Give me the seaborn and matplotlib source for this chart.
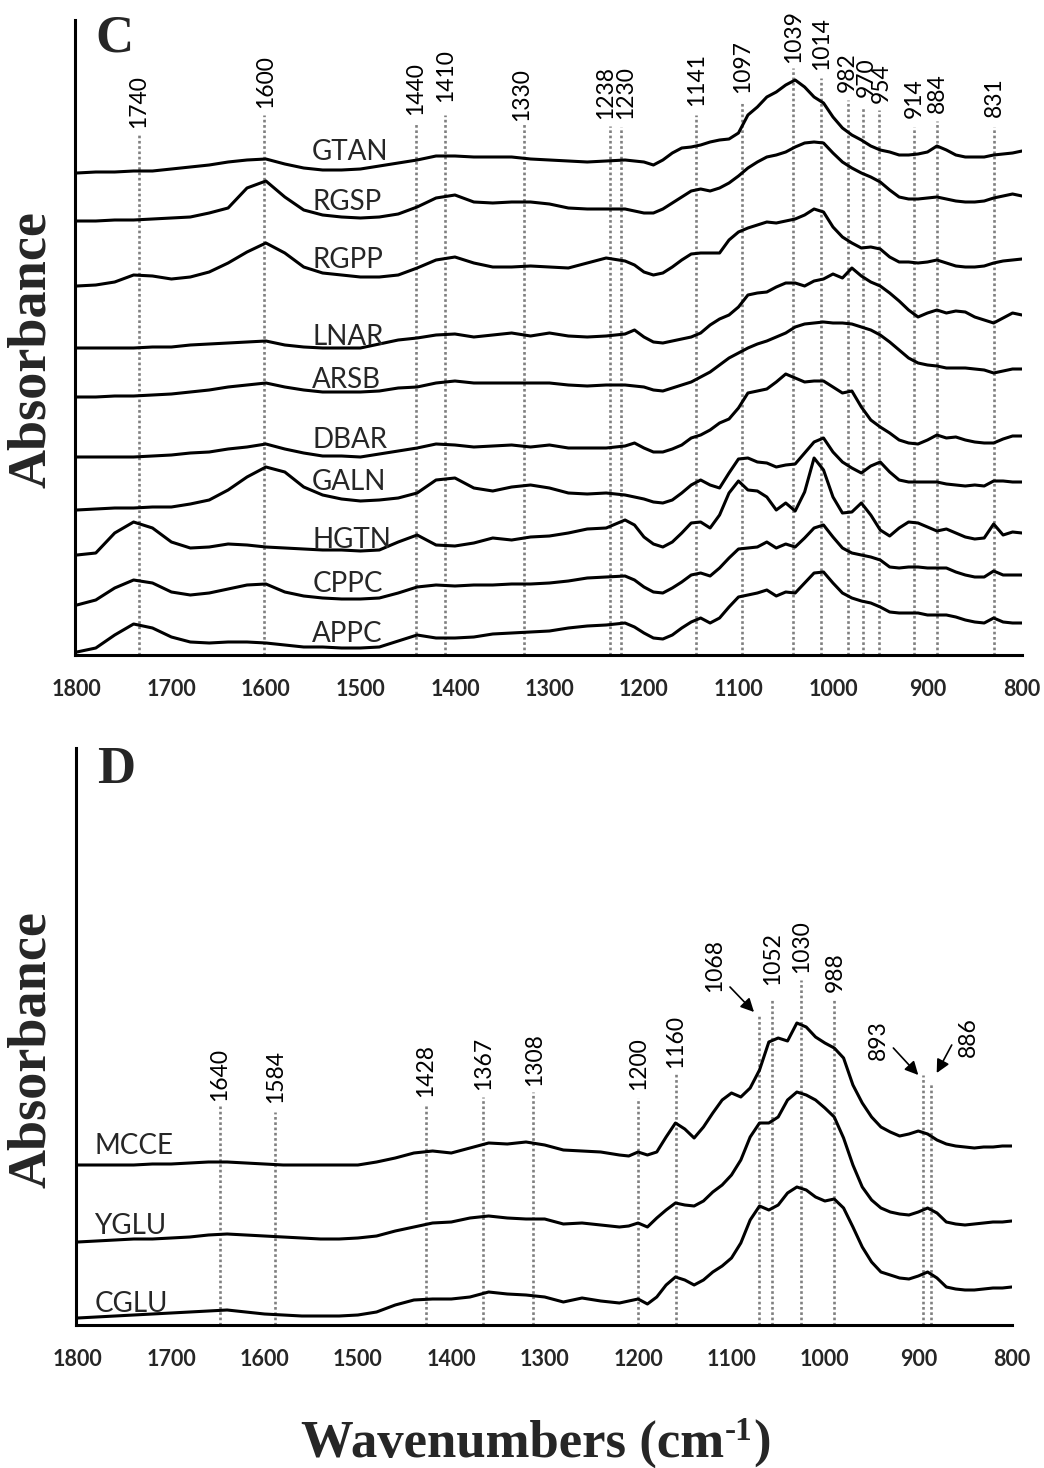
import matplotlib
matplotlib.use("Agg")
import matplotlib.pyplot as plt
import seaborn as sns
import pandas as pd

# ---------------- data ----------------
wavenumber = [1800, 1780, 1760, 1740, 1720, 1700, 1680, 1660, 1640, 1620,
              1600, 1580, 1560, 1540, 1520, 1500, 1480, 1460, 1440, 1420,
              1400, 1380, 1360, 1340, 1320, 1300, 1280, 1260, 1240, 1220,
              1210, 1200, 1190, 1180, 1170, 1160, 1150, 1140, 1130, 1120,
              1110, 1100, 1090, 1080, 1070, 1060, 1050, 1040, 1030, 1020,
              1010, 1000, 990, 980, 970, 960, 950, 940, 930, 920,
              910, 900, 890, 880, 870, 860, 850, 840, 830, 820,
              810, 800]

# panel C (offset-stacked absorbance, arbitrary units)
GTAN = [482, 483, 483, 484, 484, 486, 488, 490, 493, 495,
        496, 491, 487, 485, 485, 486, 489, 492, 495, 499,
        499, 498, 498, 498, 496, 495, 494, 493, 494, 495,
        494, 493, 490, 495, 502, 507, 508, 510, 513, 515,
        516, 522, 540, 548, 558, 563, 570, 575, 568, 558,
        552, 538, 527, 520, 515, 509, 505, 503, 500, 500,
        501, 503, 509, 505, 500, 498, 498, 498, 500, 501,
        502, 504]
RGSP = [434, 434, 435, 435, 436, 437, 438, 442, 447, 467,
        474, 458, 445, 440, 438, 437, 438, 441, 448, 457,
        460, 453, 452, 453, 453, 451, 447, 446, 446, 446,
        444, 442, 442, 446, 452, 458, 464, 466, 464, 467,
        472, 479, 487, 493, 498, 500, 503, 508, 512, 513,
        512, 502, 493, 487, 482, 478, 473, 465, 458, 456,
        456, 457, 458, 456, 454, 453, 453, 454, 457, 459,
        461, 459]
RGPP = [369, 370, 373, 380, 379, 376, 378, 383, 392, 403,
        412, 402, 388, 382, 380, 378, 378, 380, 387, 395,
        398, 392, 388, 388, 389, 388, 387, 392, 397, 394,
        390, 383, 380, 382, 388, 395, 401, 402, 402, 402,
        415, 423, 427, 430, 433, 432, 434, 436, 440, 446,
        443, 428, 418, 412, 407, 408, 406, 398, 393, 393,
        392, 393, 395, 392, 389, 388, 388, 389, 392, 394,
        395, 396]
LNAR = [307, 307, 307, 307, 308, 308, 310, 311, 312, 313,
        314, 310, 308, 307, 307, 307, 311, 315, 317, 320,
        321, 318, 320, 322, 319, 322, 319, 318, 319, 321,
        325, 318, 313, 312, 314, 316, 318, 322, 330, 336,
        340, 348, 360, 362, 363, 368, 372, 372, 369, 374,
        376, 381, 377, 387, 379, 373, 369, 362, 354, 345,
        338, 342, 345, 342, 344, 343, 338, 335, 332, 337,
        342, 340]
ARSB = [258, 258, 259, 259, 260, 261, 263, 265, 268, 270,
        272, 268, 265, 263, 263, 263, 264, 267, 268, 272,
        274, 272, 272, 272, 272, 272, 270, 269, 270, 270,
        269, 268, 265, 264, 267, 270, 273, 278, 283, 290,
        297, 302, 307, 311, 314, 318, 322, 328, 331, 332,
        333, 332, 332, 331, 328, 325, 320, 313, 305, 297,
        292, 290, 289, 287, 287, 287, 286, 285, 282, 284,
        286, 286]
DBAR = [198, 198, 198, 198, 199, 200, 202, 203, 206, 208,
        211, 206, 202, 199, 199, 198, 201, 204, 207, 211,
        210, 208, 209, 210, 208, 210, 207, 207, 207, 209,
        212, 207, 203, 203, 206, 210, 217, 220, 225, 232,
        236, 247, 262, 264, 266, 273, 281, 277, 273, 274,
        274, 268, 262, 264, 248, 235, 228, 222, 215, 212,
        211, 215, 220, 217, 218, 215, 213, 212, 212, 216,
        219, 219]
GALN = [145, 146, 147, 147, 148, 148, 151, 155, 165, 178,
        188, 183, 168, 160, 156, 154, 155, 157, 162, 175,
        177, 167, 164, 168, 170, 167, 162, 161, 162, 160,
        158, 156, 153, 152, 155, 162, 170, 175, 170, 167,
        182, 196, 197, 193, 192, 188, 190, 191, 202, 213,
        217, 203, 193, 187, 182, 189, 193, 183, 175, 173,
        173, 173, 173, 171, 170, 169, 170, 169, 174, 174,
        173, 173]
HGTN = [100, 102, 122, 133, 127, 113, 107, 108, 111, 110,
        108, 107, 106, 105, 105, 104, 105, 113, 120, 110,
        109, 112, 117, 115, 118, 119, 122, 126, 127, 135,
        130, 118, 111, 108, 113, 122, 132, 133, 127, 140,
        162, 174, 165, 164, 158, 145, 152, 144, 163, 197,
        185, 158, 142, 143, 152, 140, 125, 119, 127, 133,
        132, 128, 124, 126, 122, 118, 116, 117, 131, 120,
        123, 122]
CPPC = [50, 55, 67, 75, 72, 63, 60, 62, 66, 70,
        71, 63, 59, 57, 56, 56, 57, 62, 68, 70,
        69, 70, 70, 71, 71, 72, 74, 77, 78, 79,
        75, 68, 63, 62, 67, 73, 80, 82, 79, 87,
        97, 106, 107, 108, 113, 107, 111, 108, 117, 127,
        130, 118, 107, 102, 100, 98, 95, 88, 87, 88,
        88, 87, 87, 87, 83, 80, 78, 78, 84, 80,
        80, 80]
APPC = [3, 7, 20, 31, 27, 18, 13, 12, 13, 13,
        12, 10, 8, 8, 7, 7, 8, 14, 20, 17,
        17, 18, 21, 22, 23, 24, 27, 29, 30, 32,
        28, 22, 17, 16, 20, 27, 33, 37, 32, 37,
        48, 58, 60, 62, 65, 59, 63, 62, 72, 82,
        83, 72, 62, 57, 54, 52, 48, 43, 42, 42,
        42, 40, 40, 40, 38, 35, 33, 32, 37, 33,
        32, 32]

# panel D
MCCE = [160, 160, 160, 160, 161, 161, 162, 163, 163, 162,
        161, 160, 160, 160, 160, 160, 163, 167, 172, 174,
        172, 177, 182, 181, 183, 180, 175, 174, 173, 170,
        169, 173, 170, 173, 188, 202, 196, 187, 198, 212,
        225, 232, 228, 237, 255, 283, 287, 284, 302, 298,
        288, 282, 277, 267, 240, 222, 208, 198, 193, 189,
        191, 194, 191, 185, 181, 179, 178, 177, 178, 178,
        179, 179]
YGLU = [83, 84, 85, 86, 86, 87, 88, 90, 91, 90,
        89, 88, 87, 86, 86, 87, 89, 94, 98, 102,
        103, 107, 109, 107, 106, 106, 101, 102, 100, 98,
        99, 102, 98, 107, 115, 122, 120, 119, 124, 133,
        140, 150, 165, 188, 202, 202, 208, 225, 233, 230,
        225, 217, 208, 187, 160, 138, 125, 117, 113, 111,
        110, 113, 117, 112, 103, 101, 100, 101, 102, 103,
        103, 104]
CGLU = [7, 8, 9, 10, 11, 12, 13, 14, 15, 13,
        11, 10, 9, 9, 9, 10, 13, 20, 25, 26,
        26, 28, 33, 31, 30, 28, 23, 27, 24, 22,
        24, 26, 21, 28, 40, 48, 45, 40, 45, 53,
        59, 67, 82, 105, 119, 115, 120, 132, 138, 135,
        128, 124, 126, 117, 98, 78, 63, 53, 50, 47,
        46, 49, 53, 47, 38, 36, 35, 35, 36, 37,
        37, 38]

samples_C = ["GTAN", "RGSP", "RGPP", "LNAR", "ARSB", "DBAR", "GALN", "HGTN", "CPPC", "APPC"]
series_C = [GTAN, RGSP, RGPP, LNAR, ARSB, DBAR, GALN, HGTN, CPPC, APPC]
samples_D = ["MCCE", "YGLU", "CGLU"]
series_D = [MCCE, YGLU, CGLU]

x_ticks = [1800, 1700, 1600, 1500, 1400, 1300, 1200, 1100, 1000, 900, 800]
x_ticklabels = ["1800", "1700", "1600", "1500", "1400", "1300", "1200", "1100", "1000", "900", "800"]

peaks_C = ["1740", "1600", "1440", "1410", "1330", "1238", "1230", "1141", "1097",
           "1039", "1014", "982", "970", "954", "914", "884", "831"]
peaks_D = ["1640", "1584", "1428", "1367", "1308", "1200", "1160", "1068", "1052",
           "1030", "988", "893", "886"]

# ---------------- layout (positions of marker lines / annotations) ----------------
lineC_x = [1734.2, 1601.6, 1441.0, 1410.3, 1327.4, 1236.3, 1224.2, 1144.5, 1096.1,
           1042.1, 1012.5, 984.6, 968.4, 951.5, 914.0, 889.7, 829.7]
lineC_top = [520, 540, 531, 540, 531, 529, 528, 540, 553, 587, 577, 555, 548, 545, 528, 534, 528]
labC_x = [1734.2, 1600.8, 1442.0, 1409.7, 1329.0, 1240.9, 1219.1, 1144.5, 1096.1,
          1042.1, 1012.5, 984.6, 965.0, 948.6, 914.0, 889.7, 829.7]
labC_y = [527, 547, 540, 553, 534, 536, 536, 549, 562, 592, 585, 563, 558, 552, 537, 542, 538]
nameC_y = [495, 445, 387, 310, 267, 207, 165, 107, 63, 13]

lineD_x = [1648.0, 1588.8, 1427.4, 1366.4, 1312.0, 1200.4, 1159.4, 1070.5, 1056.3,
           1025.9, 990.0, 895.3, 886.8]
lineD_top = [219, 213, 220, 228, 233, 227, 252, 310, 325, 345, 325, 250, 242]
labD_x = [1647.6, 1588.0, 1427.4, 1365.7, 1310.4, 1199.8, 1159.7, 1117.6, 1056.3,
          1024.8, 989.2, 942.8, 846.4]
labD_y = [224, 222, 228, 235, 239, 235, 257, 333, 340, 352, 333, 265, 268]
nameD_y = [171, 91, 13]
arrowsD = [((1101.6, 338), (1075.9, 313)),
           ((926.7, 277), (900.0, 250)),
           ((864.2, 280), (880.3, 252))]

# ---------------- style ----------------
sns.set_style("white")
plt.rcParams["font.family"] = ["Lato", "DejaVu Sans"]

W, H = 1044, 1468
fig = plt.figure(figsize=(W / 100, H / 100), dpi=100)
ax1 = fig.add_axes([75 / W, (H - 655) / H, 947 / W, 635 / H])
ax2 = fig.add_axes([75.8 / W, (H - 1325) / H, 935.9 / W, 577 / H])

def long_df(names, series):
    rows = []
    for n, s in zip(names, series):
        for w, a in zip(wavenumber, s):
            rows.append({"sample": n, "wavenumber": w, "absorbance": a})
    return pd.DataFrame(rows)

dfC = long_df(samples_C, series_C)
dfD = long_df(samples_D, series_D)

for ax, df, ymax in [(ax1, dfC, 635), (ax2, dfD, 577)]:
    sns.lineplot(data=df, x="wavenumber", y="absorbance", units="sample",
                 estimator=None, color="black", lw=2.2, ax=ax, zorder=3,
                 solid_joinstyle="round", solid_capstyle="round")
    ax.set_xlim(1802, 800)
    ax.set_ylim(0, ymax)
    ax.set_xlabel("")
    ax.set_ylabel("")
    ax.set_yticks([])
    ax.set_xticks(x_ticks)
    ax.set_xticklabels(x_ticklabels)
    ax.tick_params(axis="x", direction="in", length=6, width=2, pad=17,
                   labelsize=15.5, color="black")
    for lb in ax.get_xticklabels():
        lb.set_fontweight("bold")
        lb.set_family("Lato")
    for sp in ["top", "right"]:
        ax.spines[sp].set_visible(False)
    for sp in ["left", "bottom"]:
        ax.spines[sp].set_linewidth(2.2)
        ax.spines[sp].set_color("black")
    ax.patch.set_alpha(0)

dot_kw = dict(color="#7f7f7f", lw=1.9, ls=(0, (1, 1)), zorder=1)
peak_fs = 16.5

for lx, lt, tx, ty, lab in zip(lineC_x, lineC_top, labC_x, labC_y, peaks_C):
    ax1.plot([lx, lx], [0, lt], **dot_kw)
    ax1.text(tx, ty, lab, rotation=90, ha="center", va="bottom",
             fontsize=peak_fs, family="Lato", color="black")
for n, y in zip(samples_C, nameC_y):
    ax1.text(1551, y, n, ha="left", va="baseline", fontsize=20, family="Lato")

for lx, lt, tx, ty, lab in zip(lineD_x, lineD_top, labD_x, labD_y, peaks_D):
    ax2.plot([lx, lx], [0, lt], **dot_kw)
    ax2.text(tx, ty, lab, rotation=90, ha="center", va="bottom",
             fontsize=peak_fs, family="Lato", color="black")
for n, y in zip(samples_D, nameD_y):
    ax2.text(1782, y, n, ha="left", va="baseline", fontsize=20, family="Lato")
for start, end in arrowsD:
    ax2.annotate("", xy=end, xytext=start,
                 arrowprops=dict(arrowstyle="-|>", color="black", lw=1.2,
                                 mutation_scale=20, shrinkA=0, shrinkB=0))

serif = ["Liberation Serif", "DejaVu Serif"]
fig.text(95 / W, 1 - 52 / H, "C", fontsize=38, fontweight="bold", family=serif,
         ha="left", va="baseline")
fig.text(97 / W, 1 - 783 / H, "D", fontsize=38, fontweight="bold", family=serif,
         ha="left", va="baseline")
fig.text(32 / W, 1 - 350 / H, "Absorbance", rotation=90, fontsize=39,
         fontweight="bold", family=serif, ha="center", va="center")
fig.text(32 / W, 1 - 1050 / H, "Absorbance", rotation=90, fontsize=39,
         fontweight="bold", family=serif, ha="center", va="center")

# x-axis title with superscript built from three pieces
renderer = fig.canvas.get_renderer()
base_y = 1 - 1457 / H
kw = dict(fontweight="bold", family=serif, va="baseline", ha="left")
t1 = fig.text(0, base_y, "Wavenumbers (cm", fontsize=38, **kw)
t2 = fig.text(0, base_y, "-1", fontsize=24, **kw)
t3 = fig.text(0, base_y, ")", fontsize=38, **kw)
w1 = t1.get_window_extent(renderer).width
w2 = t2.get_window_extent(renderer).width
w3 = t3.get_window_extent(renderer).width
x0 = 535 - (w1 + w2 + w3) / 2
t1.set_x(x0 / W)
t2.set_x((x0 + w1 + 1) / W)
t2.set_y(1 - 1440 / H)
t3.set_x((x0 + w1 + w2 + 2) / W)

fig.savefig("out.png", dpi=100)
